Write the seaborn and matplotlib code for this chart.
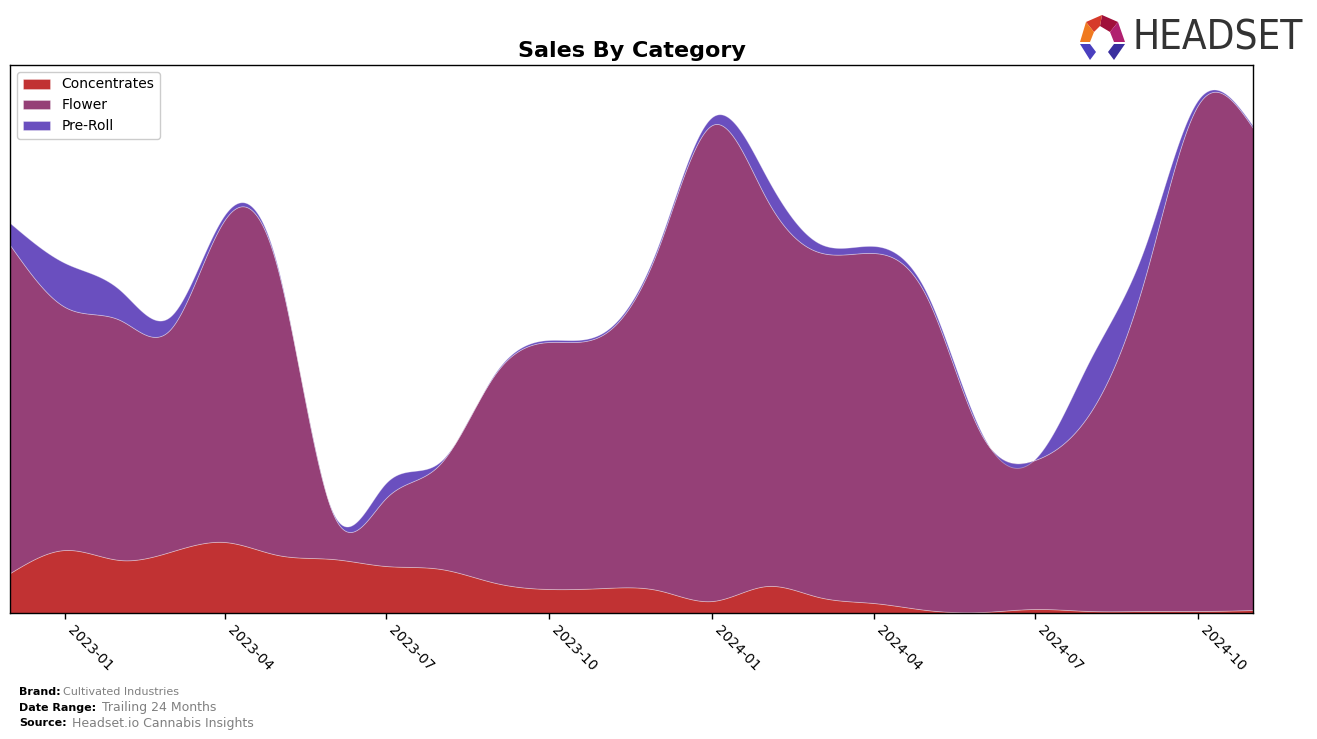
import numpy as np
import pandas as pd
import matplotlib
matplotlib.use("Agg")
import matplotlib.pyplot as plt
import matplotlib.dates as mdates
from matplotlib.patches import Polygon
import seaborn as sns

# ---- data (monthly) ----
months = pd.date_range("2022-12-01", "2024-11-01", freq="MS")
categories = ["Concentrates", "Flower", "Pre-Roll"]
concentrates = [40, 63, 53, 61, 71, 58, 54, 47, 44, 30, 24, 25,
                23, 12, 27, 16, 10, 3, 1, 4, 2, 2, 2, 3]
flower = [328, 243, 240, 222, 322, 286, 46, 68, 106, 210, 247, 254,
          339, 476, 386, 345, 350, 313, 177, 149, 198, 333, 506, 482]
preroll = [22, 44, 30, 13, 5, 2, 1, 15, 2, 1, 2, 2,
           3, 8, 22, 9, 7, 4, 2, 1, 53, 31, 5, 2]
colors = ["#C13233", "#954077", "#6A4FBF"]


def natural_spline(x, y, xs):
    x = np.asarray(x, float)
    y = np.asarray(y, float)
    n = len(x)
    h = np.diff(x)
    A = np.zeros((n, n))
    b = np.zeros(n)
    A[0, 0] = 1
    A[-1, -1] = 1
    for i in range(1, n - 1):
        A[i, i - 1] = h[i - 1]
        A[i, i] = 2 * (h[i - 1] + h[i])
        A[i, i + 1] = h[i]
        b[i] = 6 * ((y[i + 1] - y[i]) / h[i] - (y[i] - y[i - 1]) / h[i - 1])
    M = np.linalg.solve(A, b)
    idx = np.clip(np.searchsorted(x, xs) - 1, 0, n - 2)
    x0, x1 = x[idx], x[idx + 1]
    hh = x1 - x0
    t0 = x1 - xs
    t1 = xs - x0
    return (M[idx] * t0 ** 3 / (6 * hh) + M[idx + 1] * t1 ** 3 / (6 * hh)
            + (y[idx] / hh - M[idx] * hh / 6) * t0
            + (y[idx + 1] / hh - M[idx + 1] * hh / 6) * t1)


sns.set_style("white")
plt.rcParams["font.family"] = ["DejaVu Sans"]
plt.rcParams["text.color"] = "black"
plt.rcParams["xtick.color"] = "black"
plt.rcParams["axes.labelcolor"] = "black"
plt.rcParams["axes.titlecolor"] = "black"

fig = plt.figure(figsize=(13.17, 7.39), dpi=100)
ax = fig.add_axes([10 / 1317, 1 - 613 / 739, (1253 - 10) / 1317, (613 - 65) / 739])

xnum = mdates.date2num(months)
xs = np.linspace(xnum[0], xnum[-1], 1200)
series = [concentrates, flower, preroll]
smooth = [natural_spline(xnum, s, xs) for s in series]

ax.stackplot(mdates.num2date(xs), *smooth, labels=categories, colors=colors,
             edgecolor=(1, 1, 1, 0.35), linewidth=0.6)

ax.set_xlim(months[0], months[-1])
ax.set_ylim(0, 548)
ax.set_yticks([])
ax.xaxis.set_major_locator(mdates.MonthLocator(bymonth=[1, 4, 7, 10]))
ax.xaxis.set_major_formatter(mdates.DateFormatter("%Y-%m"))
ax.tick_params(axis="x", which="major", length=4, width=1, direction="out",
               labelsize=10, bottom=True, colors="black")
for lbl in ax.get_xticklabels():
    lbl.set_rotation(-45)
    lbl.set_ha("left")
for sp in ax.spines.values():
    sp.set_color("black")
    sp.set_linewidth(1)

ax.set_title("Sales By Category", fontsize=16, fontweight="bold", pad=6, color="black")
leg = ax.legend(loc="upper left", fontsize=10, frameon=True, framealpha=1,
                handlelength=2, borderaxespad=0.5)
for t in leg.get_texts():
    t.set_color("black")

# footer
fig.text(19 / 1317, 1 - 692 / 739, "Brand:", fontsize=8, fontweight="bold", va="center")
fig.text(63 / 1317, 1 - 692 / 739, "Cultivated Industries", fontsize=8, color="#808080", va="center")
fig.text(19 / 1317, 1 - 708 / 739, "Date Range:", fontsize=8, fontweight="bold", va="center")
fig.text(102 / 1317, 1 - 708 / 739, "Trailing 24 Months", fontsize=9, color="#808080", va="center")
fig.text(19 / 1317, 1 - 723 / 739, "Source:", fontsize=8, fontweight="bold", va="center")
fig.text(72 / 1317, 1 - 723 / 739, "Headset.io Cannabis Insights", fontsize=9, color="#808080", va="center")

# logo
fig.text(1133 / 1317, 1 - 39 / 739, "HEADSET", fontsize=29, color="#333333",
         va="center", ha="left", fontstretch="condensed")


def P(pts, c):
    fig.patches.append(Polygon([(px / 1317, 1 - py / 739) for px, py in pts],
                               closed=True, transform=fig.transFigure,
                               facecolor=c, edgecolor="none"))


P([(1102, 15), (1118, 22), (1110, 32), (1100, 26)], "#A0103A")
P([(1102, 15), (1086, 22), (1094, 32), (1100, 26)], "#D63A2A")
P([(1086, 22), (1080, 42), (1090, 42), (1094, 32)], "#F07A20")
P([(1118, 22), (1125, 42), (1114, 42), (1110, 32)], "#B0206F")
P([(1080, 44), (1090, 44), (1096, 52), (1090, 60)], "#4A3FBF")
P([(1125, 44), (1114, 44), (1108, 52), (1114, 60)], "#3A2F9F")

fig.savefig("out.png", dpi=100)
